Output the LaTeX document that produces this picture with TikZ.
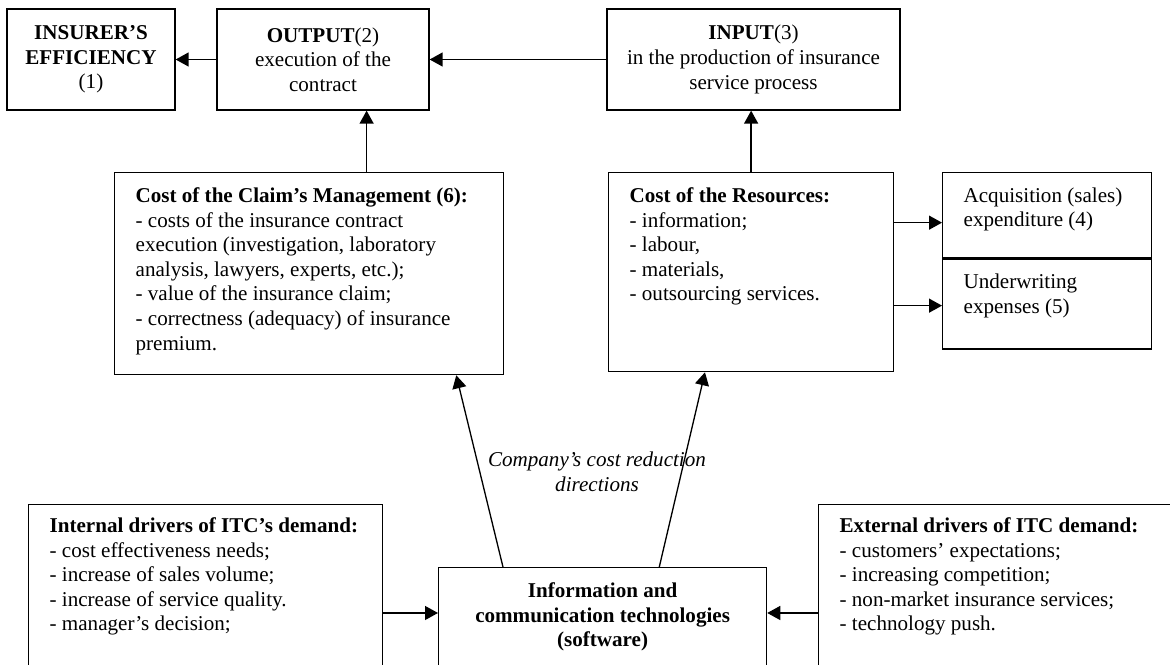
\documentclass[tikz,border=0pt]{standalone}
\usepackage{fontspec}
\setmainfont{Liberation Serif}
\usetikzlibrary{arrows.meta,positioning}
\tikzset{
  headbox/.style={draw,line width=0.75pt,inner sep=0pt,align=center,
    minimum height=2.02cm,font=\fontsize{12}{14}\selectfont},
  listbox/.style={draw,line width=0.75pt,anchor=north west,inner xsep=0.42cm,
    inner ysep=0.3cm,font=\fontsize{12}{14}\selectfont},
  flow/.style={-{Triangle[length=2.6mm,width=2.8mm]},line width=0.75pt},
  cutlabel/.style={font=\fontsize{12}{14}\selectfont\itshape,align=center}
}
\newcommand{\boxtext}[3]{\parbox[c][#2][t]{#1}{\raggedright #3}}

\begin{document}
\begin{tikzpicture}[x=0.02cm,y=-0.02cm]
  \useasboundingbox (0,0) rectangle (1170,664);
  \clip (0,0) rectangle (1170,664);
  \node[headbox,minimum width=3.36cm] (eff) at (91,59.5)
    {\textbf{INSURER’S}\\\textbf{EFFICIENCY}\\(1)};
  \node[headbox,minimum width=4.24cm] (out) at (323,59.5)
    {\textbf{OUTPUT}(2)\\execution of the\\contract};
  \node[headbox,minimum width=5.86cm] (inp) at (753.5,59.5)
    {\textbf{INPUT}(3)\\in the production of insurance\\service process};
  \node[listbox] (claim) at (114,172) {\boxtext{6.94cm}{3.44cm}{%
    \textbf{Cost of the Claim’s Management (6):}\\
    - costs of the insurance contract\\
    execution (investigation, laboratory\\
    analysis, lawyers, experts, etc.);\\
    - value of the insurance claim;\\
    - correctness (adequacy) of insurance\\
    premium.}};
  \node[listbox] (res) at (608,172) {\boxtext{4.86cm}{3.38cm}{%
    \textbf{Cost of the Resources:}\\
    - information;\\
    - labour,\\
    - materials,\\
    - outsourcing services.}};
  \node[listbox] (acq) at (942,172) {\boxtext{3.34cm}{1.10cm}{%
    Acquisition (sales)\\expenditure (4)}};
  \node[listbox,below=0pt of acq] (und) {\boxtext{3.34cm}{1.20cm}{%
    Underwriting\\expenses (5)}};
  \node[listbox,inner ysep=0.26cm] (intl) at (28,504) {\boxtext{6.24cm}{3.5cm}{%
    \textbf{Internal drivers of ITC’s demand:}\\
    - cost effectiveness needs;\\
    - increase of sales volume;\\
    - increase of service quality.\\
    - manager’s decision;}};
  \node[listbox] (itc) at (438,567) {\boxtext{5.72cm}{2.4cm}{\centering
    \textbf{Information and\\communication technologies\\(software)}}};
  \node[listbox,inner ysep=0.26cm] (ext) at (818,504) {\boxtext{6.8cm}{3.5cm}{%
    \textbf{External drivers of ITC demand:}\\
    - customers’ expectations;\\
    - increasing competition;\\
    - non-market insurance services;\\
    - technology push.}};
  \node[cutlabel] (dirs) at (597,472) {Company’s cost reduction\\directions};
  \draw[flow] (out) -- (eff);
  \draw[flow] (inp) -- (out);
  \draw[flow] ([xshift=1.15cm]claim.north) -- ([xshift=1.15cm]claim.north |- out.south);
  \draw[flow] (res.north) -- (res.north |- inp.south);
  \draw[flow] ([yshift=0.99cm]res.east) -- ([yshift=0.99cm]res.east -| acq.west);
  \draw[flow] ([yshift=-0.67cm]res.east) -- ([yshift=-0.67cm]res.east -| und.west);
  \draw[flow] ([xshift=1.3cm]itc.north west) -- ([xshift=-0.96cm]claim.south east);
  \draw[flow] ([xshift=-2.16cm]itc.north east) -- ([xshift=1.94cm]res.south west);
  \draw[flow] ([yshift=-2.18cm]intl.north east) -- ([yshift=-2.18cm]intl.north east -| itc.west);
  \draw[flow] ([yshift=-2.18cm]ext.north west) -- ([yshift=-2.18cm]ext.north west -| itc.east);
\end{tikzpicture}
\end{document}
